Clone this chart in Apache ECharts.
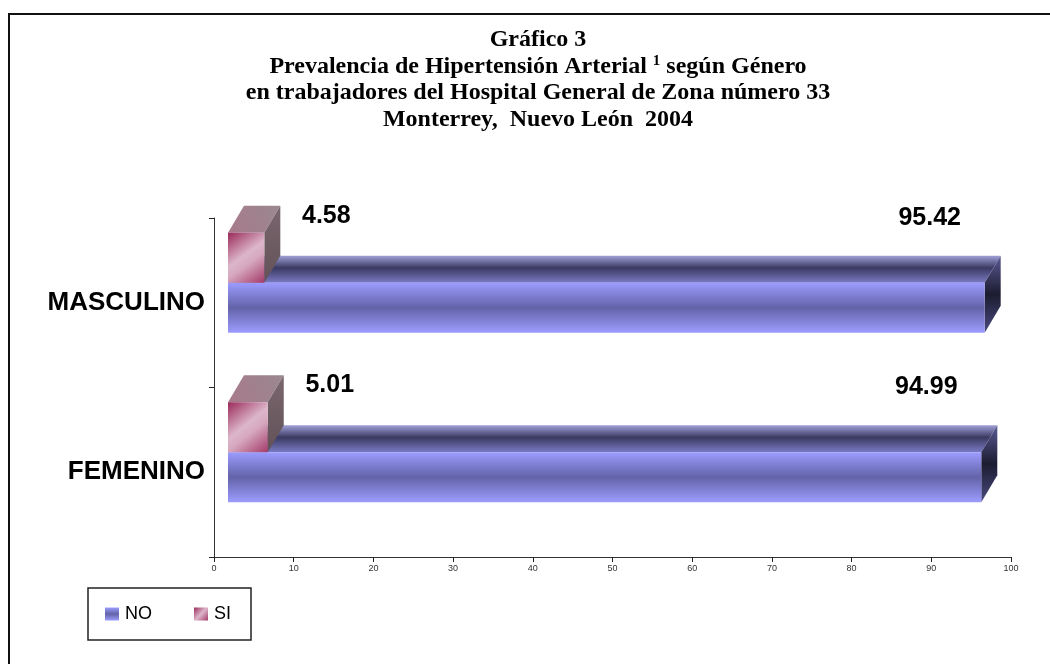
<!DOCTYPE html>
<html>
<head>
<meta charset="utf-8">
<script src="https://cdn.jsdelivr.net/npm/echarts@6/dist/echarts.min.js"></script>
<style>html,body{margin:0;padding:0;background:#fff;}#chart{width:1050px;height:664px;}</style>
</head>
<body>
<div id="chart"></div>
<script>
var categories = ['MASCULINO', 'FEMENINO'];
var noValues = [95.42, 94.99];
var siValues = [4.58, 5.01];
var xTicks = [0, 10, 20, 30, 40, 50, 60, 70, 80, 90, 100];
var titleLines = [
  'Gráfico 3',
  'Prevalencia de Hipertensión Arterial {sup|1} según Género',
  'en trabajadores del Hospital General de Zona número 33',
  'Monterrey,  Nuevo León  2004'
];

var DX = 16, DY = -27, XOFF = 14, XSCALE = 0.995;

function lin(x, y, x2, y2, stops) {
  return { type: 'linear', x: x, y: y, x2: x2, y2: y2, global: false,
    colorStops: stops.map(function (s) { return { offset: s[0], color: s[1] }; }) };
}

var styles = {
  NO: {
    front: lin(0, 0, 0, 1, [[0, '#9c9cff'], [0.5, '#6363a9'], [1, '#9c9cff']]),
    top: lin(0, 0, 0, 1, [[0, '#a0a0d8'], [0.45, '#3a3a62'], [1, '#7a7ac4']]),
    side: lin(0, 0, 0, 1, [[0, '#5a5a96'], [0.5, '#1c1c30'], [1, '#4a4a80']]),
    legend: lin(0, 0, 0, 1, [[0, '#9c9cff'], [0.5, '#6363a9'], [1, '#9c9cff']]),
    y0: -20, y1: 30
  },
  SI: {
    front: lin(0, 0, 1, 1, [[0, '#9a2a5a'], [0.45, '#dcb6ca'], [0.6, '#d6a8be'], [1, '#a43a6a']]),
    top: lin(0, 1, 1, 0, [[0, '#a87a8c'], [1, '#9a8890']]),
    side: lin(0, 0, 0, 1, [[0, '#7a666e'], [1, '#625258']]),
    legend: lin(0, 0, 1, 1, [[0, '#9a2a5a'], [0.5, '#dcb6ca'], [1, '#a43a6a']]),
    y0: -70, y1: -20
  }
};

function makeRender(key) {
  var st = styles[key];
  return function (params, api) {
    var val = api.value(0);
    var cat = api.value(1);
    var p0 = api.coord([0, cat]);
    var p1 = api.coord([val, cat]);
    var yc = p0[1];
    var x0 = p0[0] + XOFF;
    var x1 = x0 + (p1[0] - p0[0]) * XSCALE;
    var ya = yc + st.y0, yb = yc + st.y1;
    var children = [
      { type: 'polygon', shape: { points: [[x0, ya], [x1, ya], [x1 + DX, ya + DY], [x0 + DX, ya + DY]] },
        style: { fill: st.top } },
      { type: 'polygon', shape: { points: [[x1, ya], [x1 + DX, ya + DY], [x1 + DX, yb + DY], [x1, yb]] },
        style: { fill: st.side } },
      { type: 'rect', shape: { x: x0, y: ya, width: x1 - x0, height: yb - ya },
        style: { fill: st.front } }
    ];
    var lx = key === 'NO' ? x1 - 55 : x1 + 62;
    var ly = key === 'NO' ? yc - 85 : yc - 87;
    children.push({ type: 'text', x: lx, y: ly,
      style: { text: val.toFixed(2), fontSize: 25, fontWeight: 'bold', fontFamily: 'Liberation Sans',
        fill: '#000', align: 'center', verticalAlign: 'middle' } });
    return { type: 'group', children: children };
  };
}

var noData = noValues.map(function (v, i) { return [v, i]; });
var siData = siValues.map(function (v, i) { return [v, i]; });

var chart = echarts.init(document.getElementById('chart'), null, { renderer: 'canvas' });
chart.setOption({
  animation: false,
  backgroundColor: '#fff',
  graphic: [
    { type: 'rect', shape: { x: 9, y: 14, width: 1100, height: 700 }, style: { fill: 'none', stroke: '#111', lineWidth: 2 }, z: 100 },
    { type: 'text', x: 538, y: 27, z: 100,
      style: {
        text: titleLines.join('\n'), align: 'center', verticalAlign: 'top',
        fontFamily: 'Liberation Serif', fontWeight: 'bold', fontSize: 24, lineHeight: 26.5, fill: '#000',
        rich: { sup: { fontFamily: 'Liberation Serif', fontWeight: 'bold', fontSize: 15, verticalAlign: 'top', lineHeight: 26.5, padding: [0, 0, 10, 0] } }
      } }
  ],
  legend: {
    left: 88, top: 588,
    orient: 'horizontal',
    data: ['NO', 'SI'],
    itemWidth: 14, itemHeight: 13, itemGap: 42,
    icon: 'rect',
    padding: [17, 20, 17, 17],
    borderColor: '#222', borderWidth: 1.5,
    textStyle: { fontFamily: 'Liberation Sans', fontSize: 18, color: '#000', padding: [0, 0, 0, 1] }
  },
  grid: { left: 214, right: 39, top: 218, bottom: 107, containLabel: false },
  xAxis: {
    type: 'value', min: 0, max: 100, interval: 10,
    axisLine: { show: true, lineStyle: { color: '#333', width: 1 } },
    axisTick: { show: true, length: 5, lineStyle: { color: '#222' } },
    axisLabel: { fontFamily: 'Liberation Sans', fontSize: 9, color: '#333', margin: 7,
      formatter: function (v) { return xTicks.indexOf(v) >= 0 ? String(v) : ''; } },
    splitLine: { show: false }
  },
  yAxis: {
    type: 'category', data: categories, inverse: true,
    axisLine: { show: true, lineStyle: { color: '#333', width: 1 } },
    axisTick: { show: true, length: 5, lineStyle: { color: '#222' } },
    axisLabel: { fontFamily: 'Liberation Sans', fontSize: 26, fontWeight: 'bold', color: '#000', margin: 9 }
  },
  series: [
    { name: 'NO', type: 'custom', renderItem: makeRender('NO'), data: noData,
      encode: { x: 0, y: 1 }, itemStyle: { color: styles.NO.legend }, clip: false, z: 2 },
    { name: 'SI', type: 'custom', renderItem: makeRender('SI'), data: siData,
      encode: { x: 0, y: 1 }, itemStyle: { color: styles.SI.legend }, clip: false, z: 3 }
  ]
});
</script>
</body>
</html>
